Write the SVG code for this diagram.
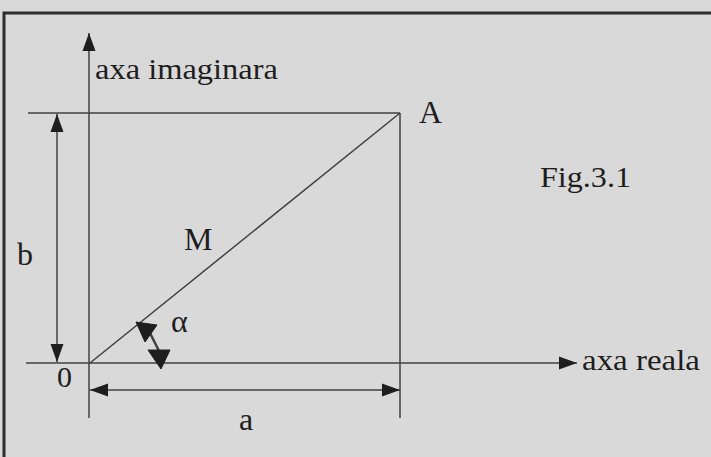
<svg xmlns="http://www.w3.org/2000/svg" width="711" height="457" viewBox="0 0 711 457">
<style>
.bg{fill:#d9d9d9}
.frame{stroke:#2e2e2e;stroke-width:3;fill:none}
.ln{stroke:#404040;stroke-width:1.5;fill:none}
.head{fill:#1e1e1e;stroke:#1e1e1e;stroke-width:1;stroke-linejoin:round}
.t{font-family:'Liberation Serif','Times New Roman',serif;font-size:30px;fill:#1e1e1e}
.L{font-size:32px}
</style>
<defs>
<marker id="ah" markerUnits="userSpaceOnUse" markerWidth="19" markerHeight="14" refX="18" refY="7" orient="auto-start-reverse" viewBox="0 0 19 14">
<path d="M0,0.5 L18,7 L0,13.5 z" fill="#1e1e1e"/>
</marker>
</defs>
<rect class="bg" x="0" y="0" width="711" height="457"/>
<g id="frame">
<path class="frame" d="M4,457 L4,13 L711,13"/>
</g>
<g id="axis-imaginary">
<text class="t" x="95" y="79" textLength="183" lengthAdjust="spacingAndGlyphs">axa imaginara</text>
</g>
<g id="axis-real">
<text class="t" x="582" y="370" textLength="118" lengthAdjust="spacingAndGlyphs">axa reala</text>
</g>
<g id="point-A">
<text class="t L" x="419" y="123">A</text>
</g>
<g id="caption">
<text class="t" x="540" y="187" textLength="91" lengthAdjust="spacingAndGlyphs">Fig.3.1</text>
</g>
<g id="label-M">
<text class="t L" x="184" y="250">M</text>
</g>
<g id="label-b">
<text class="t L" x="17" y="265">b</text>
</g>
<g id="label-alpha">
<text class="t L" x="171" y="332">α</text>
</g>
<g id="origin">
<text class="t" x="57" y="387">0</text>
</g>
<g id="label-a">
<text class="t L" x="239" y="430">a</text>
</g>
<g id="connectors">
<line class="ln" x1="89" y1="418" x2="89" y2="33" marker-end="url(#ah)"/>
<line class="ln" x1="26" y1="363" x2="577" y2="363" marker-end="url(#ah)"/>
<line class="ln" x1="28" y1="113" x2="400" y2="113"/>
<line class="ln" x1="400" y1="113" x2="400" y2="418"/>
<line class="ln" x1="90" y1="363" x2="400" y2="113"/>
<line class="ln" x1="57" y1="114" x2="57" y2="362" marker-start="url(#ah)" marker-end="url(#ah)"/>
<line class="ln" x1="90" y1="390" x2="400" y2="390" marker-start="url(#ah)" marker-end="url(#ah)"/>
<g id="angle-arrow">
<line class="ln" style="stroke-width:2.5" x1="150" y1="333" x2="159" y2="351"/>
<polygon class="head" points="136,322 157,325 145,342"/>
<polygon class="head" points="161,369 148,350 170,350"/>
</g>
</g>
</svg>
